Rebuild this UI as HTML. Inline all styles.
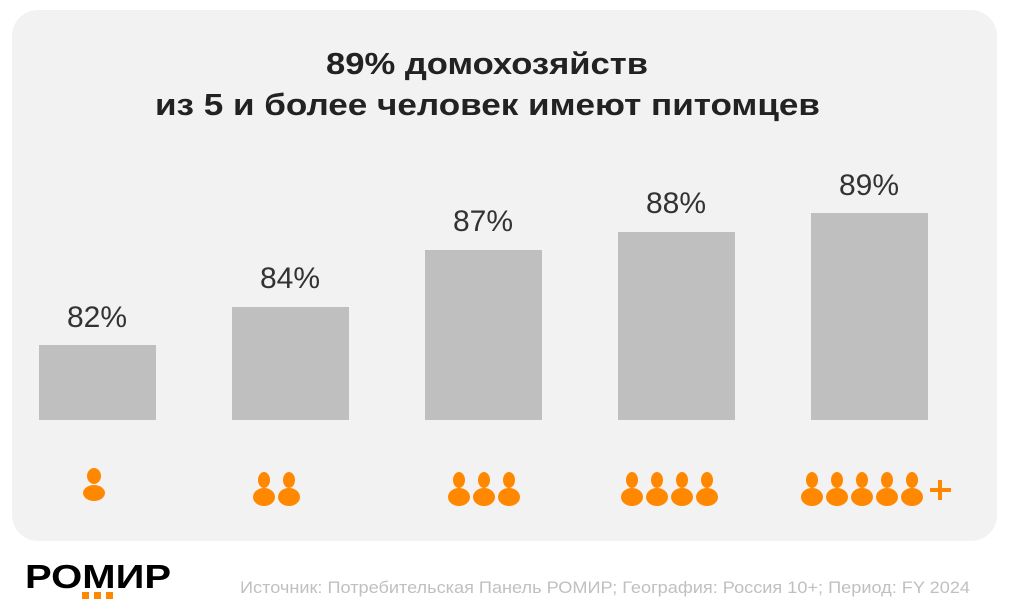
<!DOCTYPE html>
<html><head><meta charset="utf-8"><style>
body{margin:0;width:1009px;height:610px;background:#fff;overflow:hidden;font-family:"Liberation Sans",sans-serif}
</style></head><body>
<svg width="1009" height="610" xmlns="http://www.w3.org/2000/svg" style="position:absolute;left:0;top:0">
<defs><g id="p"><ellipse cx="0" cy="480" rx="6" ry="8"/><ellipse cx="0" cy="497" rx="11" ry="9"/></g></defs>
<rect x="12" y="10" width="985" height="531" rx="26" fill="#f2f2f2"/>
<g font-family="Liberation Sans, sans-serif" font-weight="bold" font-size="31" fill="#222">
<text x="326" y="74" textLength="322" lengthAdjust="spacingAndGlyphs">89% домохозяйств</text>
<text x="155" y="115" textLength="665" lengthAdjust="spacingAndGlyphs">из 5 и более человек имеют питомцев</text>
</g>
<g fill="#bfbfbf">
<rect x="39" y="345" width="117" height="75"/>
<rect x="232" y="307" width="117" height="113"/>
<rect x="425" y="250" width="117" height="170"/>
<rect x="618" y="232" width="117" height="188"/>
<rect x="811" y="213" width="117" height="207"/>
</g>
<g font-family="Liberation Sans, sans-serif" font-size="30" fill="#333" text-anchor="middle">
<text x="97" y="327">82%</text>
<text x="290" y="288">84%</text>
<text x="483" y="231">87%</text>
<text x="676" y="213">88%</text>
<text x="869" y="195">89%</text>
</g>
<g fill="#ff8800">
<ellipse cx="94" cy="476" rx="7" ry="8"/><ellipse cx="94" cy="493" rx="11" ry="8"/>
<use href="#p" x="264"/><use href="#p" x="289"/>
<use href="#p" x="459"/><use href="#p" x="484"/><use href="#p" x="509"/>
<use href="#p" x="632"/><use href="#p" x="657"/><use href="#p" x="682"/><use href="#p" x="707"/>
<use href="#p" x="812"/><use href="#p" x="837"/><use href="#p" x="862"/><use href="#p" x="887"/><use href="#p" x="912"/>
<rect x="930" y="488" width="21" height="4"/><rect x="938" y="480" width="4" height="20"/>
<rect x="82" y="592" width="7" height="7"/><rect x="94" y="592" width="7" height="7"/><rect x="106" y="592" width="7" height="7"/>
</g>
<text x="25" y="588" font-family="Liberation Sans, sans-serif" font-weight="bold" font-size="33" fill="#000" textLength="146" lengthAdjust="spacingAndGlyphs">РОМИР</text>
<text x="240" y="593" font-family="Liberation Sans, sans-serif" font-size="17" fill="#c0c0c0" textLength="730" lengthAdjust="spacingAndGlyphs">Источник: Потребительская Панель РОМИР; География: Россия 10+; Период: FY 2024</text>
</svg>
</body></html>
